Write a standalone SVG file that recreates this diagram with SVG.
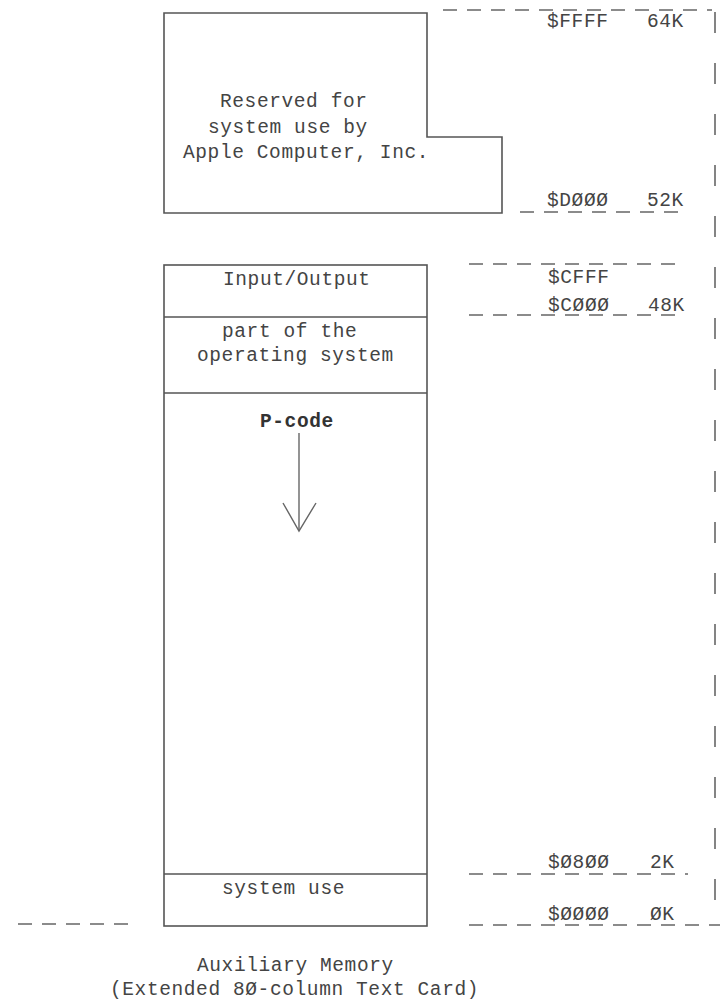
<svg xmlns="http://www.w3.org/2000/svg" width="720" height="1001" viewBox="0 0 720 1001">
<style>
  .box { fill: none; stroke: #555; stroke-width: 1.6; }
  .dash { fill: none; stroke: #666; stroke-width: 1.5; stroke-dasharray: 14 10; }
  .vdash { fill: none; stroke: #666; stroke-width: 1.6; stroke-dasharray: 21 30; }
  .t { font-family: "Liberation Mono", "DejaVu Sans Mono", monospace; font-size: 19.5px; letter-spacing: 0.6px; fill: #444; }
  .b { font-weight: bold; fill: #333; }
  .arrow { fill: none; stroke: #666; stroke-width: 1.4; }
</style>
<rect width="720" height="1001" fill="#fff"/>

<g id="reserved">
  <path class="box" d="M164,13 H427 V137 H502 V213 H164 Z"/>
  <text class="t" x="220" y="107">Reserved for</text>
  <text class="t" x="208" y="133">system use by</text>
  <text class="t" x="183" y="158">Apple Computer, Inc.</text>
</g>

<g id="memory-block">
  <rect class="box" x="164" y="265" width="263" height="661"/>
  <line class="box" x1="164" y1="317" x2="427" y2="317"/>
  <line class="box" x1="164" y1="393" x2="427" y2="393"/>
  <line class="box" x1="164" y1="874" x2="427" y2="874"/>
</g>

<g id="io">
  <text class="t" x="223" y="285">Input/Output</text>
</g>
<g id="os">
  <text class="t" x="222" y="337">part of the</text>
  <text class="t" x="197" y="361">operating system</text>
</g>
<g id="pcode">
  <text class="t b" x="260" y="427">P-code</text>
</g>
<g id="sysuse">
  <text class="t" x="222" y="894">system use</text>
</g>

<g id="connectors">
  <line class="arrow" x1="299" y1="433" x2="299" y2="530"/>
  <polyline class="arrow" points="283,503 299,531 316,503"/>
  <line class="dash" x1="443" y1="10" x2="712" y2="10"/>
  <line class="dash" x1="520" y1="212" x2="686" y2="212"/>
  <line class="dash" x1="469" y1="264" x2="682" y2="264"/>
  <line class="dash" x1="469" y1="315" x2="682" y2="315"/>
  <line class="dash" x1="469" y1="874" x2="688" y2="874"/>
  <line class="dash" x1="469" y1="925" x2="720" y2="925"/>
  <line class="dash" x1="18" y1="924" x2="130" y2="924"/>
  <line class="vdash" x1="715" y1="12" x2="715" y2="905"/>
</g>

<g id="addresses">
  <text class="t" x="547" y="27">$FFFF</text>
  <text class="t" x="647" y="27">64K</text>
  <text class="t" x="547" y="206">$DØØØ</text>
  <text class="t" x="647" y="206">52K</text>
  <text class="t" x="548" y="283">$CFFF</text>
  <text class="t" x="548" y="311">$CØØØ</text>
  <text class="t" x="648" y="311">48K</text>
  <text class="t" x="548" y="868">$Ø8ØØ</text>
  <text class="t" x="650" y="868">2K</text>
  <text class="t" x="548" y="920">$ØØØØ</text>
  <text class="t" x="650" y="920">ØK</text>
</g>

<g id="caption">
  <text class="t" x="197" y="971">Auxiliary Memory</text>
  <text class="t" x="110" y="995">(Extended 8Ø-column Text Card)</text>
</g>
</svg>
